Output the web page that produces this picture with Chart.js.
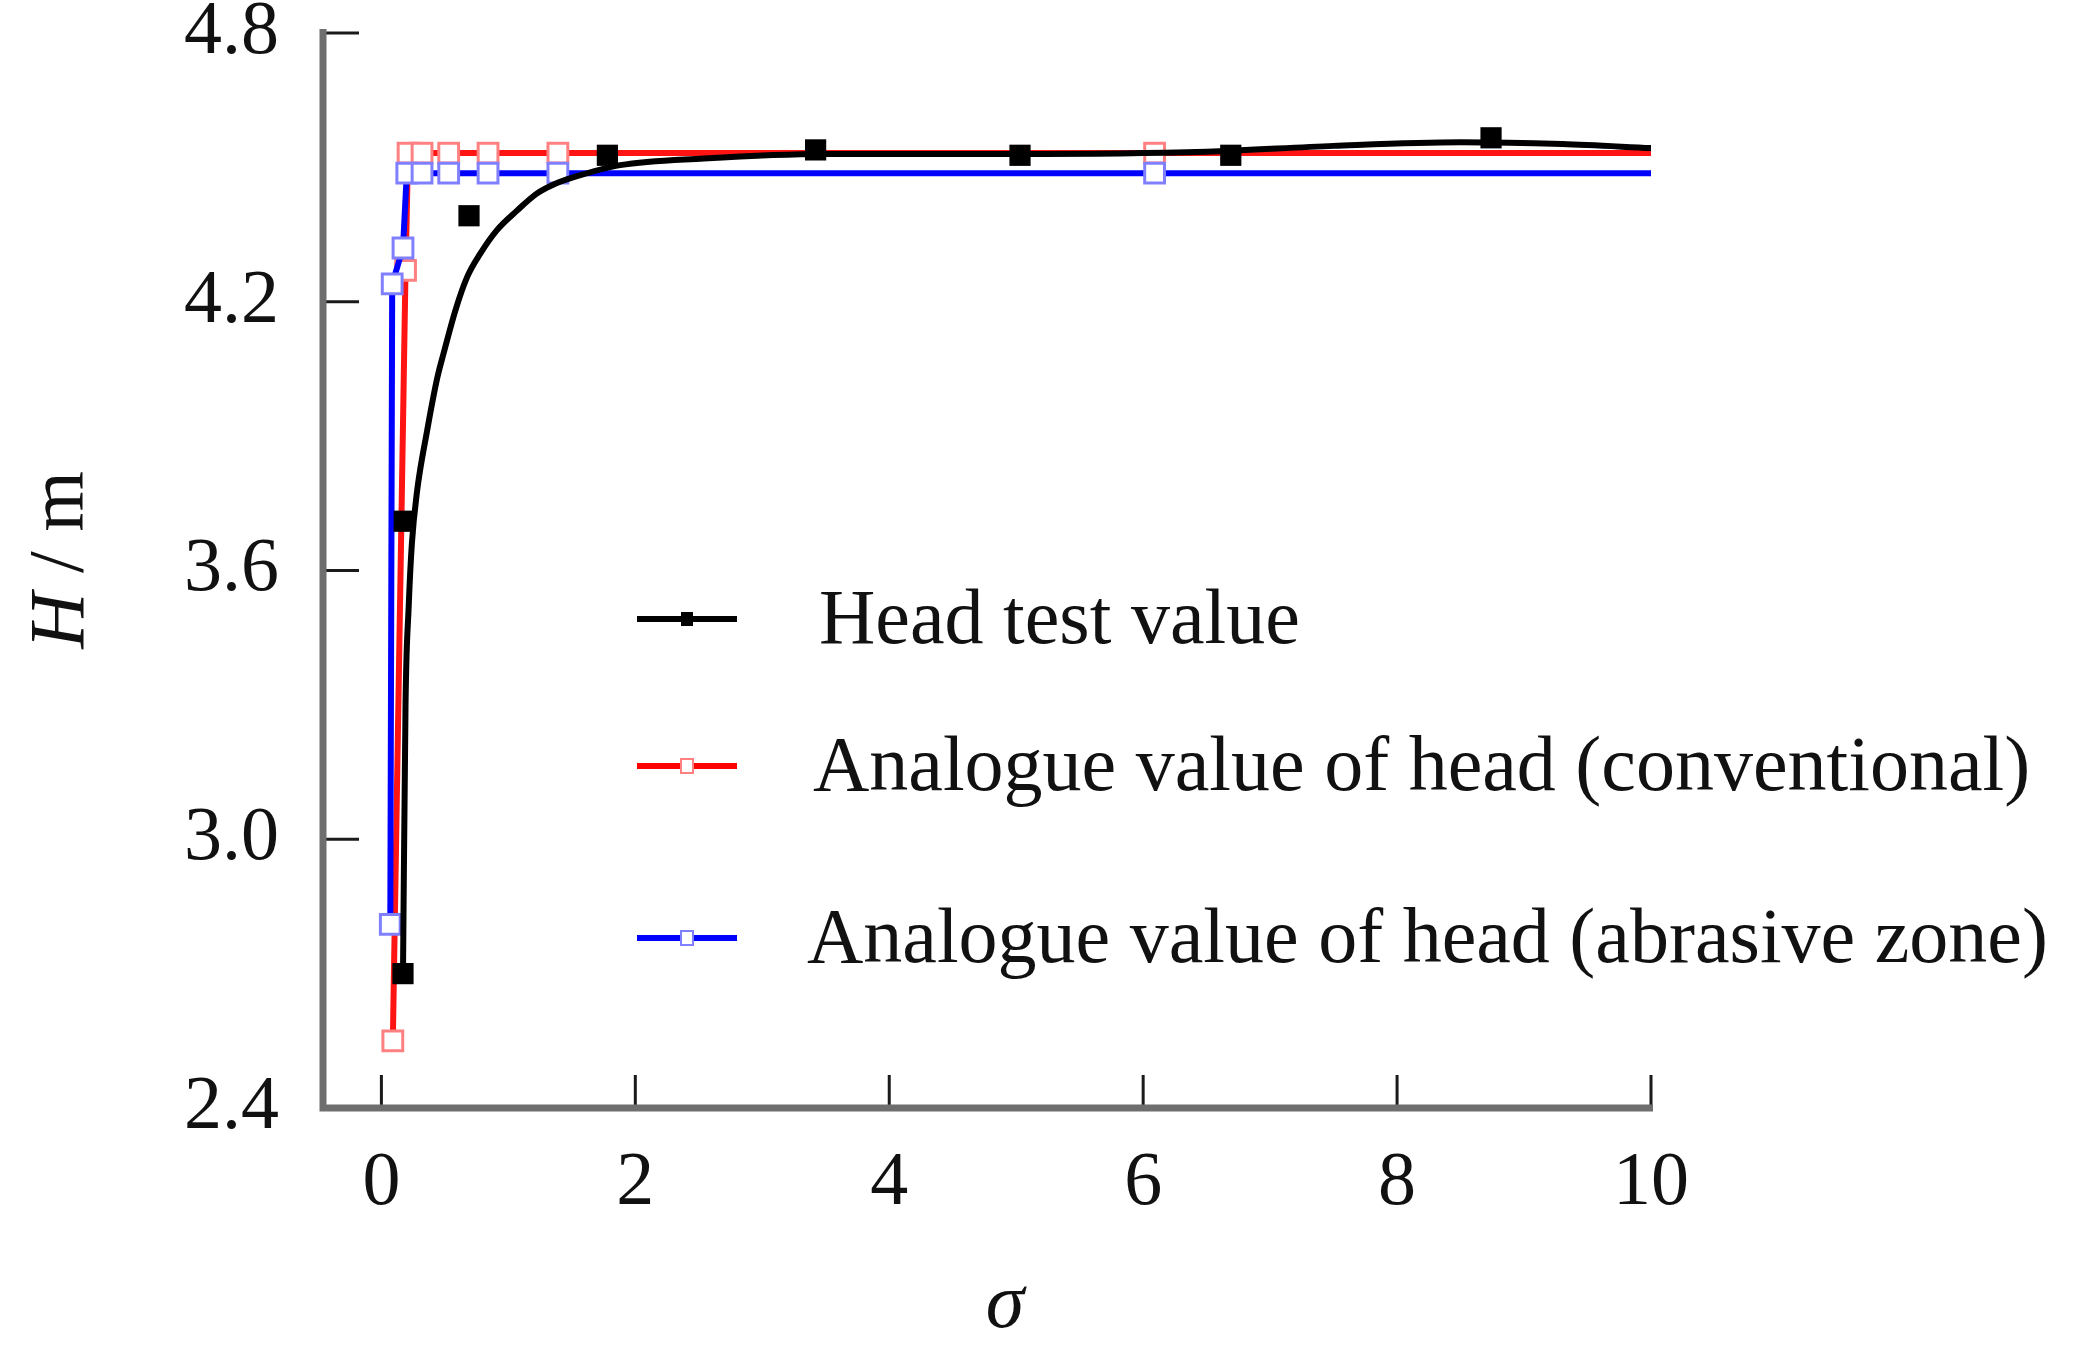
<!DOCTYPE html>
<html>
<head>
<meta charset="utf-8">
<script src="https://cdn.jsdelivr.net/npm/chart.js@4.4.1/dist/chart.umd.min.js"></script>
<style>
  body { margin: 0; background: #fff; }
  canvas { display: block; }
</style>
</head>
<body>
<canvas id="chart" width="2082" height="1362"></canvas>
<script>
// axis ticks
const xTicks = [0, 2, 4, 6, 8, 10];
const yTicks = [2.4, 3.0, 3.6, 4.2, 4.8];

// head test value (measured points)
const testSigma = [0.17, 0.18, 0.69, 1.78, 3.42, 5.03, 6.69, 8.74];
const testHead = [2.70, 3.71, 4.392, 4.527, 4.539, 4.527, 4.527, 4.566];

// fitted curve through the test values
const fitSigma = [0.17, 0.19, 0.215, 0.24, 0.28, 0.36, 0.44, 0.49, 0.583, 0.675, 0.78, 0.91, 1.07, 1.226, 1.357, 1.515, 1.88, 2.54, 3.5, 5.0, 6.5, 7.5, 8.5, 9.3, 10];
const fitHead = [2.70, 3.30, 3.52, 3.66, 3.775, 3.912, 4.03, 4.085, 4.181, 4.255, 4.308, 4.36, 4.404, 4.442, 4.462, 4.478, 4.505, 4.52, 4.53, 4.53, 4.535, 4.548, 4.556, 4.552, 4.543];

// analogue value of head (conventional)
const convSigma = [0.09, 0.19, 0.21, 0.32, 0.53, 0.84, 1.39, 6.09, 10];
const convHead = [2.55, 4.27, 4.532, 4.532, 4.532, 4.532, 4.532, 4.532, 4.532];

// analogue value of head (abrasive zone)
const abrSigma = [0.07, 0.085, 0.17, 0.20, 0.32, 0.53, 0.84, 1.39, 6.09, 10];
const abrHead = [2.81, 4.24, 4.32, 4.487, 4.487, 4.487, 4.487, 4.487, 4.487, 4.487];

const legendLabels = ['Head test value', 'Analogue value of head (conventional)', 'Analogue value of head (abrasive zone)'];

const serif = '"Liberation Serif", "Times New Roman", serif';

function toPoints(xs, ys) {
    return xs.map((x, i) => ({ x: x, y: ys[i] }));
}

// no marker on the last point of the analogue lines
function openMarker(ctx) {
    return ctx.dataIndex === ctx.dataset.data.length - 1 ? 0 : 14;
}

// axes, inward ticks, axis titles and legend
const frame = {
    id: 'frame',
    beforeDatasetsDraw(chart) {
        const ctx = chart.ctx;
        const area = chart.chartArea;
        const sx = chart.scales.x;
        const sy = chart.scales.y;
        ctx.save();
        ctx.strokeStyle = '#1a1a1a';
        ctx.lineWidth = 3;
        yTicks.forEach(v => {
            const py = sy.getPixelForValue(v);
            ctx.beginPath();
            ctx.moveTo(area.left, py);
            ctx.lineTo(area.left + 36, py);
            ctx.stroke();
        });
        xTicks.forEach(v => {
            const px = sx.getPixelForValue(v);
            ctx.beginPath();
            ctx.moveTo(px, area.bottom);
            ctx.lineTo(px, area.bottom - 33);
            ctx.stroke();
        });
        ctx.strokeStyle = '#6e6e6e';
        ctx.lineWidth = 7;
        ctx.beginPath();
        ctx.moveTo(area.left, area.top - 4);
        ctx.lineTo(area.left, area.bottom);
        ctx.lineTo(area.right + 2, area.bottom);
        ctx.stroke();
        ctx.restore();
    },
    afterDraw(chart) {
        const ctx = chart.ctx;
        const area = chart.chartArea;
        ctx.save();
        ctx.fillStyle = '#111';
        ctx.textBaseline = 'middle';

        // y title: italic H, upright " / m"
        ctx.translate(62, 560);
        ctx.rotate(-Math.PI / 2);
        ctx.font = 'italic 78px ' + serif;
        const wH = ctx.measureText('H').width;
        ctx.font = '78px ' + serif;
        const wRest = ctx.measureText(' / m').width;
        let tx = -(wH + wRest) / 2;
        ctx.font = 'italic 78px ' + serif;
        ctx.textAlign = 'left';
        ctx.fillText('H', tx, 0);
        ctx.font = '78px ' + serif;
        ctx.fillText(' / m', tx + wH, 0);
        ctx.setTransform(1, 0, 0, 1, 0, 0);

        // x title
        ctx.font = 'italic 78px ' + serif;
        ctx.textAlign = 'center';
        ctx.fillText('σ', (area.left + area.right) / 2 + 18, 1306);

        // legend
        const rows = [619, 766, 938];
        const textX = [819, 813, 807];
        const colors = ['#000000', '#ff0000', '#0000ff'];
        const marks = ['#000000', '#ff8080', '#8080ff'];
        rows.forEach((ry, i) => {
            ctx.strokeStyle = colors[i];
            ctx.lineWidth = 6;
            ctx.beginPath();
            ctx.moveTo(637, ry);
            ctx.lineTo(737, ry);
            ctx.stroke();
            if (i === 0) {
                ctx.fillStyle = '#000';
                ctx.fillRect(681, ry - 7, 12, 14);
            } else {
                ctx.fillStyle = '#fff';
                ctx.fillRect(681, ry - 7, 12, 14);
                ctx.strokeStyle = marks[i];
                ctx.lineWidth = 2;
                ctx.strokeRect(681, ry - 7, 12, 14);
            }
            ctx.fillStyle = '#111';
            ctx.font = '78px ' + serif;
            ctx.textAlign = 'left';
            ctx.fillText(legendLabels[i], textX[i], ry + 4);
        });
        ctx.restore();
    }
};

new Chart(document.getElementById('chart'), {
    type: 'line',
    data: {
        datasets: [{
            label: legendLabels[0] + ' (fit)',
            data: toPoints(fitSigma, fitHead),
            borderColor: '#000',
            borderWidth: 6,
            pointRadius: 0,
            cubicInterpolationMode: 'monotone',
            order: 0
        }, {
            label: legendLabels[0],
            data: toPoints(testSigma, testHead),
            showLine: false,
            pointStyle: 'rect',
            pointRadius: 15,
            pointBackgroundColor: '#000',
            pointBorderColor: '#000',
            pointBorderWidth: 0,
            order: 0
        }, {
            label: legendLabels[1],
            data: toPoints(convSigma, convHead),
            borderColor: '#ff1414',
            borderWidth: 6,
            tension: 0,
            pointStyle: 'rect',
            pointRadius: openMarker,
            pointBackgroundColor: '#fff',
            pointBorderColor: '#ff8080',
            pointBorderWidth: 3,
            order: 2
        }, {
            label: legendLabels[2],
            data: toPoints(abrSigma, abrHead),
            borderColor: '#0000ff',
            borderWidth: 6,
            tension: 0,
            pointStyle: 'rect',
            pointRadius: openMarker,
            pointBackgroundColor: '#fff',
            pointBorderColor: '#8080ff',
            pointBorderWidth: 3,
            order: 1
        }]
    },
    options: {
        responsive: false,
        animation: false,
        layout: { padding: { left: 0, top: 33, right: 431, bottom: 0 } },
        plugins: {
            legend: { display: false },
            tooltip: { enabled: false }
        },
        scales: {
            x: {
                type: 'linear',
                min: -0.46,
                max: 10,
                afterBuildTicks: scale => { scale.ticks = xTicks.map(v => ({ value: v })); },
                afterFit: scale => {
                    scale.height = 254;
                    scale.paddingLeft = 0;
                    scale.paddingRight = 0;
                },
                grid: { display: false },
                border: { display: false },
                ticks: {
                    color: '#111',
                    padding: 22,
                    maxRotation: 0,
                    font: { family: serif, size: 76 }
                }
            },
            y: {
                type: 'linear',
                min: 2.4,
                max: 4.8,
                afterBuildTicks: scale => { scale.ticks = yTicks.map(v => ({ value: v })); },
                afterFit: scale => {
                    scale.width = 323;
                    scale.paddingTop = 0;
                    scale.paddingBottom = 0;
                },
                grid: { display: false },
                border: { display: false },
                ticks: {
                    color: '#111',
                    padding: 36,
                    font: { family: serif, size: 76 },
                    callback: v => v.toFixed(1)
                }
            }
        }
    },
    plugins: [frame]
});
</script>
</body>
</html>
